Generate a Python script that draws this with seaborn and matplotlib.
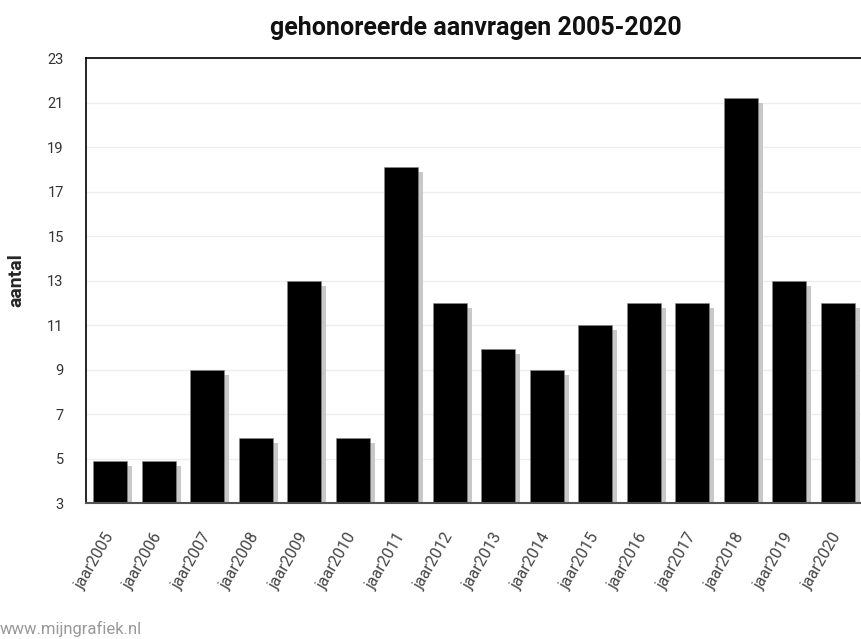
import numpy as np
import pandas as pd
import seaborn as sns
import matplotlib.pyplot as plt
import matplotlib.patheffects as pe

# data ########################################################################
jaren = ["jaar2005", "jaar2006", "jaar2007", "jaar2008", "jaar2009", "jaar2010",
         "jaar2011", "jaar2012", "jaar2013", "jaar2014", "jaar2015", "jaar2016",
         "jaar2017", "jaar2018", "jaar2019", "jaar2020"]
aantal = [4.9, 4.9, 9, 5.9, 13, 5.9, 18.1, 12, 9.9, 9, 11, 12, 12, 21.2, 13, 12]
yticks = list(range(3, 24, 2))

df = pd.DataFrame({"jaar": jaren, "aantal": aantal})

sns.set_style("white")
plt.rcParams['font.family'] = ['Roboto', 'DejaVu Sans']

fig = plt.figure(figsize=(8.62, 6.39), dpi=100)
ax = fig.add_axes([86 / 862, 1 - 503 / 639, 776 / 862, 445 / 639])

sns.barplot(data=df, x="jaar", y="aantal", color="black", width=0.7,
            saturation=1, edgecolor="#888888", linewidth=0.4, ax=ax)

# grey drop shadow on the bars
for p in ax.patches:
    p.set_path_effects([pe.SimplePatchShadow(offset=(3.6, -3.6), shadow_rgbFace="#c8c8c8", alpha=1),
                        pe.Normal()])

ax.set_ylim(3, 23)
ax.set_xlim(-0.5, len(jaren) - 0.5)
ax.set_yticks(yticks)
ax.set_yticklabels([str(t) for t in yticks], fontsize=10.5, color="#333333")
ax.yaxis.grid(True, color="#eeeeee", linewidth=1)
ax.set_axisbelow(True)
ax.tick_params(axis="y", direction="in", length=4, width=1, color="black", pad=16)
ax.tick_params(axis="x", length=0, pad=22)
plt.setp(ax.get_xticklabels(), rotation=60, ha="right", va="center", rotation_mode="anchor",
         fontsize=11.5, color="#444444")

for s in ["top", "left"]:
    ax.spines[s].set_color("black")
    ax.spines[s].set_linewidth(1.2)
ax.spines["bottom"].set_color("#555555")
ax.spines["bottom"].set_linewidth(1.5)
ax.spines["right"].set_visible(False)

ax.set_xlabel("")
ax.set_ylabel("aantal", fontsize=14, fontweight="bold")
ax.yaxis.set_label_coords(-61 / 776, 0.5)

fig.text(476 / 862, 1 - 28 / 639, "gehonoreerde aanvragen 2005-2020", ha="center", va="center",
         fontsize=18, fontweight="bold", color="#111111")
fig.text(0, 1 - 629 / 639, "www.mijngrafiek.nl", ha="left", va="center",
         fontsize=12, color="#999999")

fig.savefig("out.png", dpi=100)
